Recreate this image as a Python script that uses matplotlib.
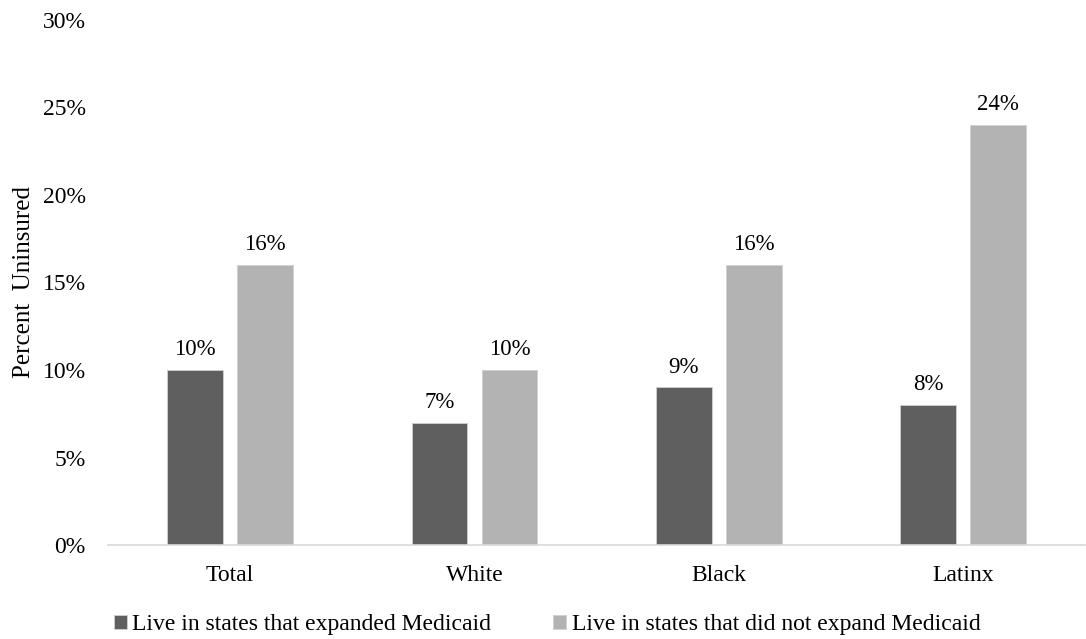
import numpy as np
import matplotlib.pyplot as plt
from matplotlib.ticker import FuncFormatter

categories = ['Total', 'White', 'Black', 'Latinx']
expanded = [10, 7, 9, 8]
not_expanded = [16, 10, 16, 24]
labels = ['Live in states that expanded Medicaid', 'Live in states that did not expand Medicaid']

plt.rcParams['font.family'] = ['Liberation Serif', 'DejaVu Serif']
plt.rcParams['font.size'] = 17

fig = plt.figure(figsize=(10.86, 6.39), dpi=100)
ax = fig.add_axes([0.0994, 0.147, 0.9, 0.822])

x = np.arange(len(categories))
w = 0.228
off = 0.143
b1 = ax.bar(x - off, expanded, w, color='#5f5f5f', edgecolor='#d0d0d0', linewidth=0.6, label=labels[0])
b2 = ax.bar(x + off, not_expanded, w, color='#b3b3b3', edgecolor='#d0d0d0', linewidth=0.6, label=labels[1])

for bars in (b1, b2):
    for r in bars:
        ax.annotate('%d%%' % r.get_height(), (r.get_x() + r.get_width() / 2, r.get_height()),
                    xytext=(0, 7), textcoords='offset points', ha='center', va='bottom', fontsize=16.5)

ax.set_xlim(-0.5, 3.5)
ax.set_ylim(0, 30)
ax.set_yticks(range(0, 31, 5))
ax.yaxis.set_major_formatter(FuncFormatter(lambda v, p: '%d%%' % v))
ax.set_xticks(x)
ax.set_xticklabels(categories)
ax.tick_params(length=0, labelsize=17)
ax.tick_params(axis='x', pad=14)
ax.tick_params(axis='y', pad=16)
ax.set_ylabel('Percent  Uninsured', fontsize=18)
ax.yaxis.set_label_coords(-0.075, 0.5)

for s in ['top', 'right', 'left']:
    ax.spines[s].set_visible(False)
ax.spines['bottom'].set_color('#d9d9d9')
ax.spines['bottom'].set_linewidth(1.2)

fig.legend(loc='lower left', bbox_to_anchor=(0.085, -0.027), ncol=2, frameon=False,
           handlelength=0.55, handleheight=0.55, handletextpad=0.25, columnspacing=2.6, fontsize=17)

fig.savefig('out.png', dpi=100)
